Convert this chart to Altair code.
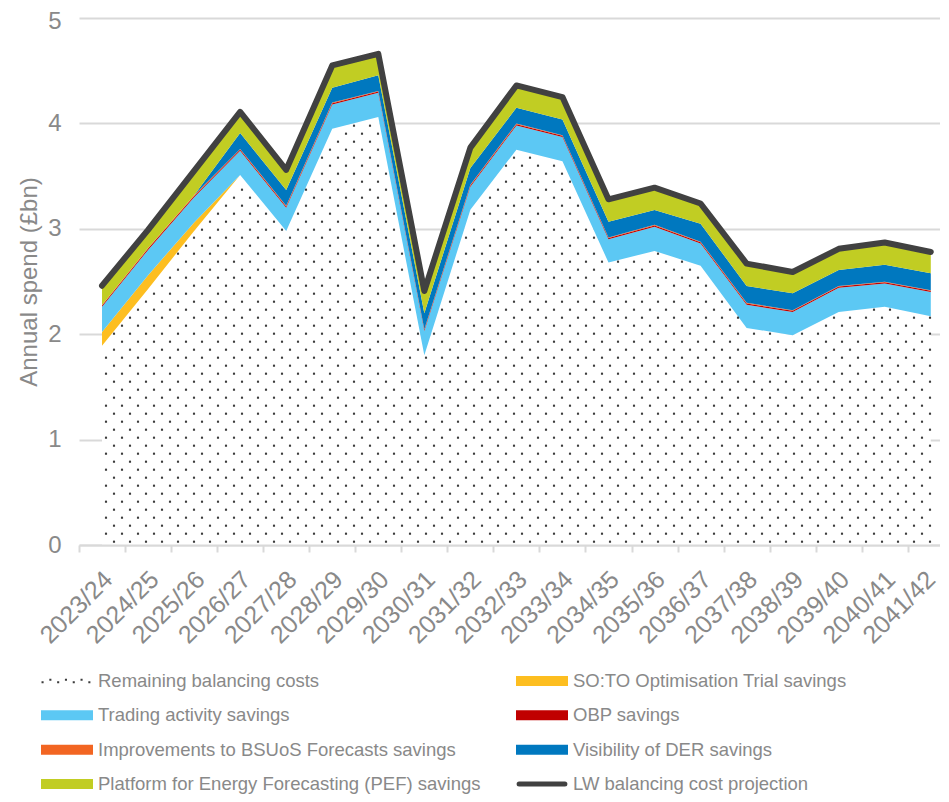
import json
import altair as alt
import pandas as pd

# ---------------- data ----------------
years = ['2023/24', '2024/25', '2025/26', '2026/27', '2027/28', '2028/29', '2029/30',
         '2030/31', '2031/32', '2032/33', '2033/34', '2034/35', '2035/36', '2036/37',
         '2037/38', '2038/39', '2039/40', '2040/41', '2041/42']

remaining = [1.89, 2.43, 2.98, 3.51, 2.98, 3.95, 4.06, 1.80, 3.18, 3.75,
             3.64, 2.68, 2.79, 2.65, 2.06, 1.99, 2.21, 2.26, 2.17]
soto = [0.13, 0.13, 0.08, 0.0, 0.0, 0.0, 0.0, 0.0, 0.0, 0.0,
        0.0, 0.0, 0.0, 0.0, 0.0, 0.0, 0.0, 0.0, 0.0]
trading = [0.24, 0.24, 0.24, 0.23, 0.22, 0.23, 0.23, 0.23, 0.22, 0.23,
           0.23, 0.22, 0.23, 0.21, 0.22, 0.22, 0.23, 0.22, 0.23]
obp = [0.012, 0.012, 0.012, 0.012, 0.012, 0.012, 0.012, 0.012, 0.012, 0.012,
       0.012, 0.012, 0.012, 0.012, 0.012, 0.012, 0.012, 0.012, 0.012]
bsuos = [0.006, 0.006, 0.006, 0.006, 0.006, 0.006, 0.006, 0.006, 0.006, 0.006,
         0.006, 0.006, 0.006, 0.006, 0.006, 0.006, 0.006, 0.006, 0.006]
der = [0.0, 0.0, 0.0, 0.15, 0.15, 0.14, 0.15, 0.15, 0.16, 0.15,
       0.15, 0.15, 0.14, 0.17, 0.16, 0.16, 0.15, 0.16, 0.16]
pef = [0.19, 0.18, 0.22, 0.20, 0.19, 0.21, 0.20, 0.21, 0.19, 0.21,
       0.21, 0.21, 0.21, 0.19, 0.21, 0.20, 0.20, 0.21, 0.20]
lw = [2.46, 2.99, 3.55, 4.11, 3.56, 4.55, 4.66, 2.41, 3.77, 4.36,
      4.25, 3.28, 3.39, 3.24, 2.67, 2.59, 2.81, 2.87, 2.78]

legend_names = ['Remaining balancing costs', 'SO:TO Optimisation Trial savings',
                'Trading activity savings', 'OBP savings',
                'Improvements to BSUoS Forecasts savings', 'Visibility of DER savings',
                'Platform for Energy Forecasting (PEF) savings', 'LW balancing cost projection']
legend_kinds = ['dots', 'rect', 'rect', 'rect', 'rect', 'rect', 'rect', 'line']

series_names = legend_names[:7]
series_values = [remaining, soto, trading, obp, bsuos, der, pef]
series_colors = ['#ffffff', '#FDBE20', '#5CC8F4', '#C00000', '#F26522', '#0078BF', '#C1CD23']
line_color = '#414141'
dot_color = '#3c3c3c'
text_color = '#898989'
grid_color = '#d9d9d9'

# ---------------- tables ----------------
idx = list(range(len(years)))
rows = []
for r, (name, vals) in enumerate(zip(series_names, series_values)):
    for i, v in enumerate(vals):
        rows.append({'idx': i, 'year': years[i], 'series': name, 'rank': r, 'value': v})
long_df = pd.DataFrame(rows)
wide_df = pd.DataFrame({'idx': idx, 'year': years, 'remaining': remaining, 'lw': lw})
leg_df = pd.DataFrame({'name': legend_names,
                       'row': [i // 2 for i in range(len(legend_names))],
                       'col': [i % 2 for i in range(len(legend_names))],
                       'kind': legend_kinds})

# ---------------- geometry ----------------
W, H = 861, 527
X_MIN, X_MAX = -0.5, 18.2
Y_MAX = 5
px_x = W / (X_MAX - X_MIN)
px_y = H / Y_MAX
band = px_x
last_idx = idx[-1]

# dotted texture lattice (8px columns, 16px row pitch, alternate columns offset 8px)
DX = 8 / px_x
DY = 16 / px_y
X0 = X_MIN + 27 / px_x
Y_EVEN = 11.3 / px_y
Y_ODD = 3.3 / px_y
MARGIN = 1.2 / px_y

x_scale = alt.Scale(domain=[X_MIN, X_MAX], nice=False, zero=False)
y_scale = alt.Scale(domain=[0, Y_MAX], nice=False)

label_expr = json.dumps(years) + '[datum.value]'
x_axis = alt.Axis(values=idx, labelExpr=label_expr, title=None, grid=False,
                  domainColor=grid_color, domainWidth=2, tickColor=grid_color,
                  tickWidth=2, tickSize=7, tickOffset=-band / 2,
                  labelOffset=alt.condition(f'datum.value == {last_idx}',
                                            alt.value(band / 2), alt.value(band / 2 + 6)),
                  labelAngle=315, labelAlign='right', labelBaseline='middle',
                  labelPadding=23, labelFontSize=25, labelColor=text_color,
                  labelOverlap=False, labelFlush=False, zindex=1)
y_axis = alt.Axis(values=[0, 1, 2, 3, 4, 5], title='Annual spend (£bn)', grid=True,
                  gridColor=grid_color, gridWidth=2, domain=False, ticks=False,
                  labelPadding=18, labelFontSize=24, labelColor=text_color,
                  labelOffset=alt.condition(f'datum.value == {Y_MAX}', alt.value(3.5), alt.value(0)),
                  titleFontSize=24, titleFontWeight='normal', titleColor=text_color,
                  titlePadding=6)

color_scale = alt.Scale(domain=series_names, range=series_colors)

areas = alt.Chart(long_df).mark_area(interpolate='linear').encode(
    x=alt.X('idx:Q', scale=x_scale, axis=x_axis),
    y=alt.Y('value:Q', stack='zero', scale=y_scale, axis=y_axis),
    color=alt.Color('series:N', scale=color_scale, legend=None),
    order=alt.Order('rank:Q', sort='ascending'),
)

dots = alt.Chart(wide_df).transform_window(
    next_rem='lead(remaining)', sort=[alt.SortField('idx', order='ascending')]
).transform_filter(
    'isValid(datum.next_rem)'
).transform_calculate(
    ks=f'sequence(ceil((datum.idx - {X0})/{DX}), ceil((datum.idx + 1 - {X0})/{DX}))'
).transform_flatten(
    ['ks'], as_=['k']
).transform_calculate(
    xd=f'{X0} + datum.k*{DX}'
).transform_calculate(
    ytop='datum.remaining + (datum.xd - datum.idx)*(datum.next_rem - datum.remaining)',
    y0=f'datum.k % 2 == 0 ? {Y_EVEN} : {Y_ODD}'
).transform_calculate(
    js=f'sequence(0, max(0, ceil((datum.ytop - {MARGIN} - datum.y0)/{DY})))'
).transform_flatten(
    ['js'], as_=['j']
).transform_calculate(
    yd=f'datum.y0 + datum.j*{DY}'
).mark_square(size=4.5, color=dot_color, opacity=1).encode(
    x=alt.X('xd:Q', scale=x_scale, axis=x_axis),
    y=alt.Y('yd:Q', scale=y_scale, axis=y_axis),
)

line = alt.Chart(wide_df).mark_line(color=line_color, strokeWidth=6, strokeCap='round',
                                    strokeJoin='round').encode(
    x=alt.X('idx:Q', scale=x_scale, axis=x_axis),
    y=alt.Y('lw:Q', scale=y_scale, axis=y_axis),
)

main = alt.layer(areas, dots, line)

# ---------------- legend (2 columns x 4 rows) ----------------
lx = alt.X('col:Q', scale=alt.Scale(domain=[0, 1], range=[-12, 463], zero=False, nice=False), axis=None)
ly = alt.Y('row:Q', scale=alt.Scale(domain=[0, 3], range=[663, 766], zero=False, nice=False), axis=None)

RECT_PATH = 'M-1,-0.192H1V0.192H-1Z'
dot_parts = []
for m in range(7):
    cx = -0.94 + m * 0.3
    cy = 0.05 if m % 2 == 0 else -0.05
    dot_parts.append(f'M{cx - 0.04:.3f},{cy - 0.04:.3f}h0.08v0.08h-0.08Z')
DOTS_PATH = ''.join(dot_parts)

leg_rect = alt.Chart(leg_df).transform_filter("datum.kind == 'rect'").mark_point(
    shape=RECT_PATH, filled=True, size=2704, opacity=1).encode(
    x=lx, y=ly, color=alt.Color('name:N', scale=color_scale, legend=None))

leg_dots = alt.Chart(leg_df).transform_filter("datum.kind == 'dots'").mark_point(
    shape=DOTS_PATH, filled=True, size=2704, opacity=1, color=dot_color).encode(x=lx, y=ly)

leg_line = alt.Chart(leg_df).transform_filter("datum.kind == 'line'").mark_point(
    shape='M-0.88,0H0.88', filled=False, size=2704, opacity=1, color=line_color,
    strokeWidth=5, strokeCap='round').encode(x=lx, y=ly)

leg_text = alt.Chart(leg_df).mark_text(align='left', baseline='middle', dx=31,
                                       fontSize=18.5, color=text_color).encode(
    x=lx, y=ly, text='name:N')

chart = alt.layer(main, leg_rect, leg_dots, leg_line, leg_text).resolve_scale(
    x='independent', y='independent'
).properties(
    width=W, height=H,
    padding={'left': 71, 'top': 10, 'right': 0, 'bottom': 249},
    autosize=alt.AutoSizeParams(type='none'),
).configure(
    font='Liberation Sans', background='white'
).configure_view(stroke=None)

chart.save('out.html', embed_options={'renderer': 'svg', 'actions': False})
